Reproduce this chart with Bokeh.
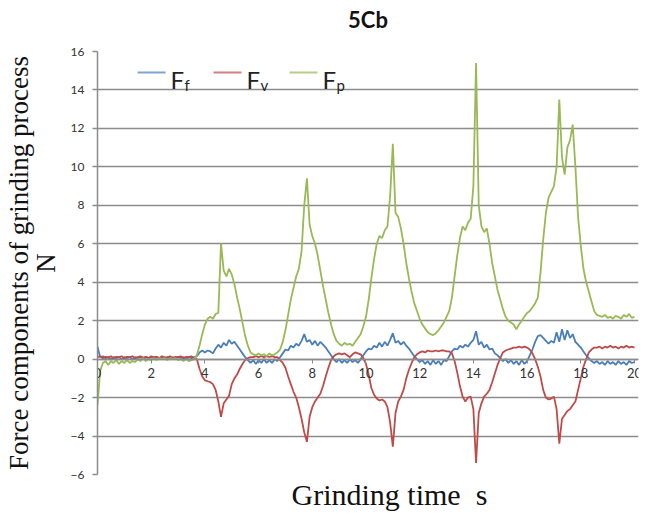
import numpy as np
from bokeh.plotting import figure
from bokeh.models import (Range1d, FixedTicker, Title, Label, BoxAnnotation,
                          LinearAxis)
from bokeh.embed import file_html
from bokeh.resources import INLINE

# Sampling instants of the force record, one every 0.1 s
time_s = np.arange(201) / 10.0

# Force components (N), one row per second of grinding
force_f = [
    0.65, 0.1, 0.15, 0.05, 0.1, 0.0, 0.1, 0.05, 0.1, 0.0,
    0.1, 0.05, 0.1, 0.0, 0.1, 0.05, 0.1, 0.0, 0.1, 0.05,
    0.1, 0.0, 0.1, 0.05, 0.1, 0.0, 0.1, 0.05, 0.1, 0.0,
    0.1, 0.05, 0.1, 0.0, 0.1, 0.05, 0.1, 0.15, 0.35, 0.45,
    0.35, 0.45, 0.4, 0.3, 0.55, 0.75, 0.6, 0.85, 0.7, 1.0,
    0.8, 0.9, 0.7, 0.5, 0.3, 0.1, -0.05, -0.2, -0.05, -0.25,
    -0.05, -0.2, 0.0, -0.2, -0.05, -0.2, 0.0, -0.1, 0.1, 0.3,
    0.5, 0.45, 0.7, 0.6, 0.8, 0.7, 0.95, 1.3, 0.9, 1.0,
    0.75, 0.95, 0.7, 0.9, 0.75, 0.6, 0.4, 0.2, 0.0, -0.15,
    0.0, -0.2, -0.05, -0.2, 0.0, -0.15, -0.05, -0.2, 0.0, 0.2,
    0.4, 0.55, 0.5, 0.7, 0.6, 0.85, 0.65, 0.9, 0.7, 1.0,
    1.35, 0.85, 0.95, 0.75, 0.9, 0.7, 0.55, 0.35, 0.15, 0.0,
    -0.15, -0.05, -0.25, -0.1, -0.3, -0.05, -0.25, -0.1, -0.3, -0.05,
    -0.1, 0.15, 0.4, 0.55, 0.5, 0.7, 0.6, 0.75, 0.65, 0.85,
    1.0, 1.45, 0.75, 0.9, 0.6, 0.75, 0.5, 0.55, 0.3, 0.2,
    0.05, -0.1, 0.0, -0.2, -0.05, -0.25, -0.1, -0.3, -0.05, -0.25,
    -0.1, 0.2, 0.5, 0.9, 1.2, 1.25, 1.1, 0.95, 0.8, 0.95,
    0.85, 1.4, 0.9, 1.55, 1.0, 1.5, 1.1, 1.3, 0.9, 0.75,
    0.6, 0.4, 0.2, 0.05, -0.1, -0.2, -0.1, -0.25, -0.15, -0.3,
    -0.1, -0.25, -0.15, -0.3, -0.1, -0.25, -0.15, -0.3, -0.1, -0.2,
    -0.15,
]

force_v = [
    0.1, 0.15, 0.05, 0.12, 0.08, 0.15, 0.05, 0.12, 0.1, 0.15,
    0.05, 0.12, 0.1, 0.15, 0.05, 0.1, 0.15, 0.08, 0.12, 0.05,
    0.15, 0.1, 0.12, 0.05, 0.15, 0.1, 0.08, 0.15, 0.05, 0.12,
    0.1, 0.15, 0.05, 0.12, 0.1, 0.15, 0.05, 0.0, -0.5, -0.9,
    -1.1, -1.15, -1.2, -1.3, -1.6, -2.2, -3.0, -2.3, -2.1, -1.9,
    -1.3, -1.0, -0.8, -0.5, -0.25, -0.05, 0.05, 0.1, 0.1, 0.15,
    0.1, 0.15, 0.1, 0.15, 0.12, 0.15, 0.1, 0.1, -0.05, -0.2,
    -0.45, -0.9, -1.3, -1.7, -2.0, -2.5, -3.1, -3.8, -4.3, -3.0,
    -2.5, -2.2, -2.0, -1.8, -1.4, -0.9, -0.45, -0.05, 0.15, 0.25,
    0.3, 0.25, 0.3, 0.2, 0.1, 0.25, 0.35, 0.3, 0.25, 0.05,
    -0.25, -0.8, -1.5, -1.85, -2.05, -2.15, -2.1, -2.2, -2.5, -3.3,
    -4.55, -2.8, -2.2, -1.95, -1.6, -1.0, -0.55, -0.2, 0.1, 0.25,
    0.35, 0.4, 0.35, 0.45, 0.4, 0.4, 0.45, 0.4, 0.45, 0.45,
    0.4, 0.4, 0.3, -0.1, -0.7, -1.4, -1.95, -2.2, -2.0, -1.95,
    -2.6, -5.4, -2.8, -2.3, -1.95, -1.8, -1.6, -1.2, -0.75, -0.3,
    0.05, 0.35, 0.45, 0.5, 0.55, 0.6, 0.6, 0.65, 0.6, 0.65,
    0.6, 0.5, 0.3, 0.0, -0.4, -0.9, -1.6, -2.0, -2.1, -2.05,
    -1.95, -2.6, -4.4, -3.1, -2.9, -2.7, -2.6, -2.4, -2.2, -1.6,
    -1.0, -0.4, 0.0, 0.35, 0.5, 0.6, 0.6, 0.65, 0.55, 0.65,
    0.6, 0.7, 0.6, 0.65, 0.55, 0.65, 0.6, 0.7, 0.6, 0.65,
    0.6,
]

force_p = [
    -2.4, -0.6, -0.2, -0.1, -0.3, -0.1, -0.2, -0.05, -0.25, -0.1,
    -0.2, -0.05, -0.2, -0.1, -0.15, 0.0, -0.1, 0.05, -0.1, 0.0,
    -0.05, 0.05, -0.05, 0.05, 0.0, 0.05, -0.05, 0.05, 0.0, 0.05,
    -0.05, 0.0, -0.1, 0.0, -0.1, -0.05, 0.0, 0.2, 0.7, 1.3,
    1.8, 2.1, 2.2, 2.1, 2.35, 2.4, 6.0, 4.6, 4.3, 4.7,
    4.4, 3.9, 3.2, 2.6, 1.9, 1.2, 0.7, 0.35, 0.25, 0.2,
    0.3, 0.2, 0.25, 0.15, 0.3, 0.2, 0.25, 0.35, 0.5, 0.9,
    1.5, 2.3, 3.1, 3.7, 4.3, 4.7, 5.6, 8.0, 9.4, 7.0,
    6.4, 6.0, 5.4, 4.6, 3.8, 3.1, 2.4, 1.8, 1.3, 0.95,
    0.8, 0.7, 0.85, 0.75, 0.8, 0.7, 0.9, 1.1, 1.3, 1.7,
    2.2, 3.1, 4.2, 5.2, 6.0, 6.4, 6.3, 6.7, 6.9, 8.5,
    11.2, 7.6, 7.4, 6.8, 6.0, 5.0, 4.2, 3.5, 2.9, 2.5,
    2.1, 1.8, 1.6, 1.4, 1.3, 1.25, 1.35, 1.5, 1.7, 1.9,
    2.2, 2.5, 3.2, 4.3, 5.4, 6.3, 6.9, 6.7, 7.1, 7.3,
    9.0, 15.4, 8.0, 6.9, 6.6, 6.8, 6.0, 5.0, 4.3, 3.6,
    3.1, 2.6, 2.2, 2.0, 1.9, 1.8, 1.55, 1.8, 2.0, 2.2,
    2.4, 2.5, 2.7, 2.9, 3.2, 4.5, 6.2, 7.6, 8.4, 8.7,
    9.0, 10.0, 13.5, 10.5, 9.6, 11.0, 11.4, 12.2, 10.0, 7.4,
    5.9, 4.7, 4.0, 3.5, 3.0, 2.5, 2.3, 2.25, 2.2, 2.3,
    2.15, 2.2, 2.1, 2.25, 2.2, 2.1, 2.3, 2.2, 2.35, 2.15,
    2.2,
]

series_names = ["f", "v", "p"]
series_colors = ["#4a7ebb", "#be4b48", "#98b954"]
x_ticks = list(range(0, 21, 2))
y_ticks = list(range(-6, 17, 2))

GRID = "#8c8c8c"
SANS = "Lato"
SERIF = "Liberation Serif"

p = figure(
    width=646, height=515,
    x_range=Range1d(0, 20.15), y_range=Range1d(-6, 16),
    output_backend="svg", toolbar_location=None,
    min_border_left=97, min_border_right=8,
    min_border_top=51, min_border_bottom=41,
)
p.outline_line_color = None
p.background_fill_color = "white"
p.title.text = ""
p.title.standoff = 0
p.title.text_font_size = "1px"

# The figure's own axes, taken before any extra axes are added
xax = p.below[0]
yax = p.left[0]


def bare_axis(label, font, size, style, standoff):
    """Axis with no ticks or line, used only to carry a text label."""
    return LinearAxis(
        ticker=FixedTicker(ticks=[]), axis_line_color=None,
        major_tick_line_color=None, minor_tick_line_color=None,
        major_tick_out=0, major_tick_in=0, minor_tick_out=0,
        major_label_standoff=0, major_label_text_font_size="1px",
        axis_label=label, axis_label_text_font=font,
        axis_label_text_font_size=size, axis_label_text_font_style=style,
        axis_label_text_color="#111111", axis_label_standoff=standoff,
    )


# Chart heading above the frame
p.add_layout(bare_axis("5Cb", SANS, "22px", "bold", 19), "above")

# Horizontal gridlines only
p.xgrid.grid_line_color = None
p.ygrid.ticker = FixedTicker(ticks=y_ticks)
p.ygrid.grid_line_color = GRID
p.ygrid.grid_line_width = 1.5

# Value axis; its unit sits next to the tick labels
yax.ticker = FixedTicker(ticks=y_ticks)
yax.axis_line_color = GRID
yax.axis_line_width = 1.5
yax.major_tick_line_color = GRID
yax.major_tick_line_width = 1.5
yax.major_tick_out = 5
yax.major_tick_in = 0
yax.minor_tick_line_color = None
yax.major_label_text_font = SANS
yax.major_label_text_font_size = "12px"
yax.major_label_text_color = "#333333"
yax.major_label_standoff = 8
yax.axis_label = "N"
yax.axis_label_text_font = SERIF
yax.axis_label_text_font_size = "27px"
yax.axis_label_text_font_style = "normal"
yax.axis_label_text_color = "#111111"
yax.axis_label_standoff = 7

# Outer axis carrying the quantity name
p.add_layout(bare_axis("Force components of grinding process", SERIF,
                       "27px", "normal", -6), "left")

# Time axis crosses at zero force
xax.fixed_location = 0
xax.ticker = FixedTicker(ticks=x_ticks)
xax.axis_line_color = GRID
xax.axis_line_width = 1.5
xax.major_tick_line_color = GRID
xax.major_tick_out = 4
xax.major_tick_in = 0
xax.minor_tick_line_color = None
xax.major_label_text_font = SANS
xax.major_label_text_font_size = "13px"
xax.major_label_text_color = "#333333"
xax.major_label_standoff = 5

p.add_layout(Title(text="Grinding time\u00a0\u00a0s", align="left",
                   text_font=SERIF, text_font_size="30px",
                   text_font_style="normal", text_color="#111111",
                   offset=194, standoff=3), "below")

# Force traces
for vals, col in zip([force_f, force_v, force_p], series_colors):
    p.line(time_s, vals, line_color=col, line_width=1.8)

# Legend row with subscripted labels (frame-relative pixels)
for i, (name, col) in enumerate(zip(series_names, series_colors)):
    x0 = 40 + i * 76
    p.add_layout(BoxAnnotation(left=x0, right=x0 + 28, bottom=401, top=403,
                               left_units="screen", right_units="screen",
                               bottom_units="screen", top_units="screen",
                               fill_color=col, fill_alpha=0.7, line_color=None))
    p.add_layout(Label(x=x0 + 33, y=395, x_units="screen", y_units="screen",
                       text="F", text_font=SANS, text_font_size="24px",
                       text_color="#222222", text_baseline="alphabetic"))
    p.add_layout(Label(x=x0 + 47, y=390, x_units="screen", y_units="screen",
                       text=name, text_font=SANS, text_font_size="15px",
                       text_color="#222222", text_baseline="alphabetic"))

open("out.html", "w").write(file_html(p, INLINE))
